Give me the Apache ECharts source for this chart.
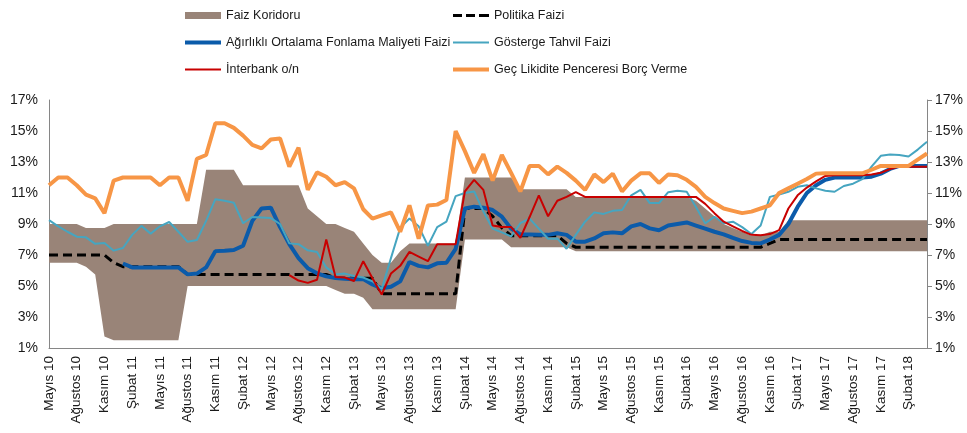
<!DOCTYPE html>
<html>
<head>
<meta charset="utf-8">
<script src="https://cdn.jsdelivr.net/npm/echarts@6/dist/echarts.min.js"></script>
<style>
    html, body { margin: 0; padding: 0; background: #fff; }
    #chart { width: 967px; height: 433px; }
</style>
</head>
<body>
<div id="chart"></div>
<script>
    // ay isimleri, Mayıs 2010 - Nisan 2018 (aylık)
    var monthNames = ['Ocak', 'Şubat', 'Mart', 'Nisan', 'Mayıs', 'Haziran', 'Temmuz', 'Ağustos', 'Eylül', 'Ekim', 'Kasım', 'Aralık'];
    var categories = [];
    for (var i = 0; i < 96; i++) {
        var m = (4 + i) % 12;
        var y = 10 + Math.floor((4 + i) / 12);
        categories.push(monthNames[m] + ' ' + y);
    }

    var yTicks = [1, 3, 5, 7, 9, 11, 13, 15, 17];

    // faiz koridoru alt / üst
    var corridorLow = [
        6.5, 6.5, 6.5, 6.5, 6.25, 5.75, 1.75,
        1.5, 1.5, 1.5, 1.5, 1.5, 1.5, 1.5, 1.5,
        5, 5, 5, 5, 5, 5, 5, 5, 5, 5, 5, 5, 5, 5, 5, 5,
        4.75, 4.5, 4.5, 4.25, 3.5,
        3.5, 3.5, 3.5, 3.5, 3.5, 3.5, 3.5, 3.5, 3.5,
        8, 8, 8, 8, 8,
        7.5, 7.5, 7.5, 7.5, 7.5, 7.5, 7.5,
        7.25, 7.25, 7.25, 7.25, 7.25, 7.25, 7.25, 7.25, 7.25, 7.25, 7.25, 7.25, 7.25,
        7.25, 7.25, 7.25, 7.25, 7.25, 7.25, 7.25, 7.25, 7.25, 7.25, 7.25, 7.25, 7.25,
        7.25, 7.25, 7.25, 7.25, 7.25, 7.25, 7.25, 7.25, 7.25, 7.25, 7.25, 7.25, 7.25
    ];
    var corridorHigh = [
        9, 9, 9, 9, 8.75, 8.75, 8.75,
        9, 9, 9, 9, 9, 9, 9, 9, 9, 9,
        12.5, 12.5, 12.5, 12.5,
        11.5, 11.5, 11.5, 11.5, 11.5, 11.5, 11.5,
        10, 9.5, 9, 9, 8.75, 8.5, 7.75, 7, 6.5, 6.5, 7.25,
        7.75, 7.75, 7.75, 7.75, 7.75, 7.75,
        12, 12, 12, 12, 12, 12,
        11.25, 11.25, 11.25, 11.25, 11.25, 11.25,
        10.75, 10.75, 10.75, 10.75, 10.75, 10.75, 10.75, 10.75, 10.75, 10.75, 10.75, 10.75, 10.75,
        10.5, 10, 9.5, 9, 8.75, 8.5, 8.25, 8.25, 8.5, 8.5,
        9.25, 9.25, 9.25, 9.25, 9.25, 9.25, 9.25, 9.25, 9.25, 9.25, 9.25, 9.25, 9.25, 9.25, 9.25, 9.25
    ];

    var politika = [
        7, 7, 7, 7, 7, 7, 7, 6.5,
        6.25, 6.25, 6.25, 6.25, 6.25, 6.25, 6.25,
        5.75, 5.75, 5.75, 5.75, 5.75, 5.75, 5.75, 5.75, 5.75, 5.75, 5.75, 5.75, 5.75, 5.75, 5.75, 5.75,
        5.5, 5.5, 5.5, 5.5, 5.5,
        4.5, 4.5, 4.5, 4.5, 4.5, 4.5, 4.5, 4.5, 4.5,
        10, 10, 10, 9.5, 8.75,
        8.25, 8.25, 8.25, 8.25, 8.25, 8.25, 7.75,
        7.5, 7.5, 7.5, 7.5, 7.5, 7.5, 7.5, 7.5, 7.5, 7.5, 7.5, 7.5, 7.5, 7.5, 7.5, 7.5, 7.5, 7.5, 7.5, 7.5, 7.5,
        7.75,
        8, 8, 8, 8, 8, 8, 8, 8, 8, 8, 8, 8, 8, 8, 8, 8, 8
    ];

    var aofm = [
        null, null, null, null, null, null, null, null,
        6.45, 6.2, 6.2, 6.2, 6.2, 6.2, 6.2, 5.75, 5.8, 6.2, 7.25, 7.28,
        7.32, 7.6, 9.2, 10, 10.05, 8.8, 7.7, 6.8, 6.15, 5.82,
        5.62, 5.52, 5.47, 5.43, 5.45, 5.1, 4.85, 4.95, 5.3, 6.55,
        6.3, 6.2, 6.46, 6.5, 7.4, 10, 10.12, 10.05, 9.9, 9.47,
        8.7, 8.33, 8.33, 8.3, 8.3, 8.4, 8.3, 7.86, 7.86, 8.07,
        8.4, 8.46, 8.4, 8.85, 9, 8.72, 8.6, 8.9, 9, 9.1,
        8.9, 8.7, 8.5, 8.33, 8.1, 7.9, 7.78, 7.75, 8, 8.3,
        9, 10.1, 11, 11.5, 11.85, 12, 12, 12, 12, 12.05,
        12.25, 12.55, 12.75, 12.75, 12.75, 12.75
    ];

    var gosterge = [
        9.25, 8.85, 8.5, 8.18, 8.14, 7.72, 7.78, 7.28, 7.45, 8.3,
        8.88, 8.38, 8.85, 9.13, 8.5, 7.85, 7.97, 9.2, 10.6, 10.5,
        10.37, 9.05, 9.45, 9.42, 9.38, 9, 7.75, 7.7, 7.3, 7.2,
        6.2, 5.75, 5.8, 5.65, 5.55, 5.3, 4.8, 6.8, 8.75, 9.35,
        8.85, 7.6, 8.8, 9.15, 10.8, 11, 11.1, 9.8, 8.7, 8.46,
        8.2, 9.05, 9.35, 8.7, 8.05, 8.07, 7.4, 8.3, 9.15, 9.75,
        9.65, 9.85, 9.9, 10.85, 11.2, 10.35, 10.35, 11.05, 11.15, 11.08,
        10.1, 9.04, 9.47, 9.05, 9.15, 8.8, 8.35, 8.9, 10.75, 10.9,
        11.08, 11.4, 11.5, 11.3, 11.15, 11.08, 11.45, 11.6, 11.9, 12.7,
        13.4, 13.49, 13.45, 13.35, 13.8, 14.3
    ];

    var interbank = [
        null, null, null, null, null, null, null, null, null, null,
        null, null, null, null, null, null, null, null, null, null,
        null, null, null, null, null, null,
        5.7, 5.35, 5.2, 5.4,
        8, 5.58, 5.55, 5.32, 6.6, 5.5, 4.45, 5.8, 6.3, 7.2,
        6.9, 6.6, 7.7, 7.7, 7.7, 11.1, 11.85, 11.2, 8.9, 8.8,
        8.8, 8.1, 9.45, 10.85, 9.5, 10.5, 10.75, 11.05, 10.75, 10.75,
        10.75, 10.75, 10.75, 10.75, 10.75, 10.75, 10.75, 10.75, 10.75, 10.75,
        10.75, 10.3, 9.7, 9.15, 8.85, 8.55, 8.3, 8.28, 8.35, 8.6,
        10, 10.85, 11.35, 11.75, 12.1, 12.15, 12.15, 12.15, 12.15, 12.2,
        12.3, 12.55, 12.7, 12.7, 12.7, 12.7
    ];

    var gecLikidite = [
        11.5, 12, 12, 11.5, 10.9, 10.65, 9.7, 11.8, 12, 12,
        12, 12, 11.5, 12, 12, 10.5, 13.2, 13.45, 15.5, 15.5,
        15.2, 14.7, 14.1, 13.88, 14.45, 14.52, 12.7, 13.92, 11.2, 12.33,
        12.05, 11.5, 11.7, 11.3, 9.95, 9.35, 9.55, 9.75, 8.5, 10.2,
        8.05, 10.2, 10.25, 10.55, 15, 13.7, 12.3, 13.5, 11.8, 13.45,
        12.3, 11.1, 12.75, 12.75, 12.2, 12.7, 12.3, 11.8, 11.2, 12.2,
        11.7, 12.25, 11.1, 11.8, 12.27, 12.27, 11.65, 12.2, 12.15, 11.85,
        11.4, 10.75, 10.35, 10, 9.85, 9.7, 9.8, 10, 10.2, 11,
        11.3, 11.6, 11.9, 12.25, 12.27, 12.27, 12.27, 12.27, 12.27, 12.5,
        12.75, 12.75, 12.75, 12.75, 13.15, 13.55
    ];

    var corridorBand = corridorHigh.map(function (v, k) { return +(v - corridorLow[k]).toFixed(2); });

    var font = 'Liberation Sans';
    var axisColor = '#868686';

    // lejant ikonları (sembolsüz çizgi)
    var iconThick = 'path://M0,0 M36,7 M0,1.5 L36,1.5 L36,5.5 L0,5.5 Z';
    var iconThin = 'path://M0,0 M36,7 M0,2.5 L36,2.5 L36,4.5 L0,4.5 Z';
    var iconDash = 'path://M0,0 M36,7 M0,2 L9,2 L9,5 L0,5 Z M13,2 L22,2 L22,5 L13,5 Z M26,2 L36,2 L36,5 L26,5 Z';

    var myChart = echarts.init(document.getElementById('chart'));
    var option = {
        animation: false,
        backgroundColor: '#fff',
        textStyle: { fontFamily: font },
        legend: [{
            orient: 'vertical',
            left: 180,
            top: 4,
            itemWidth: 36,
            itemHeight: 7,
            itemGap: 14,
            textStyle: { fontSize: 12.5, color: '#1a1a1a', fontFamily: font },
            data: [
                { name: 'Faiz Koridoru', icon: 'rect' },
                { name: 'Ağırlıklı Ortalama Fonlama Maliyeti Faizi', icon: iconThick },
                { name: 'İnterbank o/n', icon: iconThin }
            ]
        }, {
            orient: 'vertical',
            left: 448,
            top: 4,
            itemWidth: 36,
            itemHeight: 7,
            itemGap: 14,
            textStyle: { fontSize: 12.5, color: '#1a1a1a', fontFamily: font },
            data: [
                { name: 'Politika Faizi', icon: iconDash },
                { name: 'Gösterge Tahvil Faizi', icon: iconThin },
                { name: 'Geç Likidite Penceresi Borç Verme', icon: iconThick }
            ]
        }],
        grid: { left: 49, right: 40, top: 100, bottom: 85 },
        xAxis: {
            type: 'category',
            data: categories,
            boundaryGap: false,
            axisLine: { lineStyle: { color: axisColor, width: 1 } },
            axisTick: { show: false },
            splitLine: { show: false },
            axisLabel: {
                interval: 2,
                rotate: 90,
                margin: 8,
                fontSize: 13.5,
                color: '#1a1a1a',
                fontFamily: font
            }
        },
        yAxis: [{
            type: 'value',
            min: yTicks[0],
            max: yTicks[yTicks.length - 1],
            interval: 2,
            axisLine: { show: true, lineStyle: { color: axisColor } },
            axisTick: { show: false },
            splitLine: { show: false },
            axisLabel: { formatter: '{value}%', fontSize: 14, color: '#1a1a1a', margin: 11, fontFamily: font }
        }, {
            type: 'value',
            position: 'right',
            min: yTicks[0],
            max: yTicks[yTicks.length - 1],
            interval: 2,
            axisLine: { show: true, lineStyle: { color: axisColor } },
            axisTick: { show: true, length: 5, lineStyle: { color: axisColor } },
            splitLine: { show: false },
            axisLabel: { formatter: '{value}%', fontSize: 14, color: '#1a1a1a', margin: 8, fontFamily: font }
        }],
        series: [{
            name: 'koridor-alt',
            type: 'line',
            stack: 'koridor',
            data: corridorLow,
            symbol: 'none',
            lineStyle: { width: 0, opacity: 0 },
            silent: true
        }, {
            name: 'Faiz Koridoru',
            type: 'line',
            stack: 'koridor',
            data: corridorBand,
            symbol: 'none',
            itemStyle: { color: '#998478' },
            lineStyle: { width: 0, opacity: 0 },
            areaStyle: { color: '#998478', opacity: 1 }
        }, {
            name: 'Politika Faizi',
            type: 'line',
            data: politika,
            symbol: 'none',
            itemStyle: { color: '#000' },
            lineStyle: { color: '#000', width: 3, type: [9, 5] }
        }, {
            name: 'Ağırlıklı Ortalama Fonlama Maliyeti Faizi',
            type: 'line',
            data: aofm,
            symbol: 'none',
            itemStyle: { color: '#0B5BAA' },
            lineStyle: { color: '#0B5BAA', width: 4 }
        }, {
            name: 'Gösterge Tahvil Faizi',
            type: 'line',
            data: gosterge,
            symbol: 'none',
            itemStyle: { color: '#46A5C0' },
            lineStyle: { color: '#46A5C0', width: 2 }
        }, {
            name: 'İnterbank o/n',
            type: 'line',
            data: interbank,
            symbol: 'none',
            itemStyle: { color: '#C80000' },
            lineStyle: { color: '#C80000', width: 2 }
        }, {
            name: 'Geç Likidite Penceresi Borç Verme',
            type: 'line',
            data: gecLikidite,
            symbol: 'none',
            itemStyle: { color: '#F79646' },
            lineStyle: { color: '#F79646', width: 4 }
        }]
    };
    myChart.setOption(option);
</script>
</body>
</html>
